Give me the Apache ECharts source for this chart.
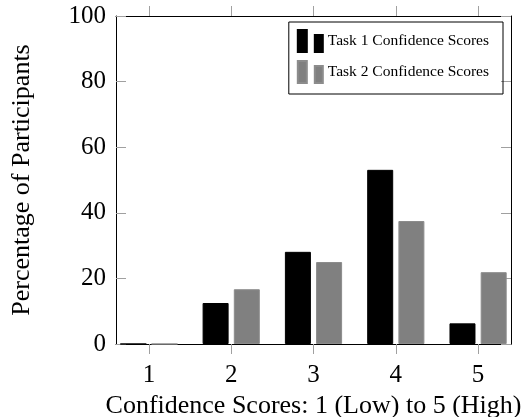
<!DOCTYPE html>
<html>
<head>
<meta charset="utf-8">
<script src="https://cdn.jsdelivr.net/npm/echarts@6/dist/echarts.min.js"></script>
<style>
  html, body { margin: 0; padding: 0; background: #fff; }
  #chart { width: 527px; height: 417px; }
</style>
</head>
<body>
<div id="chart"></div>
<script>
const scores = [1, 2, 3, 4, 5];
const task1 = [0, 12.5, 28.1, 53.1, 6.3];
const task2 = [0, 16.7, 25.0, 37.5, 21.9];
const yTicks = [0, 20, 40, 60, 80, 100];

const serif = '"Liberation Serif", "DejaVu Serif", serif';
const tickGray = '#a0a0a0';
const legendIcon = 'path://M0,0h9v22h-9z M17,5h8v17h-8z';

const chart = echarts.init(document.getElementById('chart'));

const xBase = {
  type: 'value',
  min: 0.6,
  max: 5.4,
  splitLine: { show: false },
  axisLine: { show: true, onZero: false, lineStyle: { color: '#000', width: 1 } }
};
const yBase = {
  type: 'value',
  min: yTicks[0],
  max: yTicks[yTicks.length - 1],
  interval: 20,
  splitLine: { show: false },
  axisLine: { show: true, lineStyle: { color: '#000', width: 1 } },
  axisTick: { show: true, inside: true, length: 10, lineStyle: { color: tickGray } }
};

chart.setOption({
  animation: false,
  backgroundColor: '#fff',
  grid: { left: 116, right: 16, top: 16, bottom: 73, containLabel: false, outerBoundsMode: 'none' },
  legend: {
    orient: 'vertical',
    right: 24,
    top: 22,
    padding: [7, 14, 10, 8],
    itemGap: 7,
    itemWidth: 25,
    itemHeight: 22,
    borderColor: '#000',
    borderWidth: 1,
    borderRadius: 0,
    icon: legendIcon,
    textStyle: { fontFamily: serif, fontSize: 15.5, color: '#000' },
    data: ['Task 1 Confidence Scores', 'Task 2 Confidence Scores']
  },
  xAxis: [
    Object.assign({}, xBase, {
      position: 'bottom',
      name: 'Confidence Scores: 1 (Low) to 5 (High)',
      nameLocation: 'middle',
      nameGap: 45,
      nameTextStyle: { fontFamily: serif, fontSize: 26, color: '#000' },
      axisTick: { show: true, length: 10, customValues: scores, lineStyle: { color: tickGray } },
      axisLabel: { customValues: scores, fontFamily: serif, fontSize: 25, color: '#000', margin: 19 }
    }),
    Object.assign({}, xBase, {
      position: 'top',
      axisTick: { show: true, length: 10, customValues: scores, lineStyle: { color: tickGray } },
      axisLabel: { show: false }
    })
  ],
  yAxis: [
    Object.assign({}, yBase, {
      position: 'left',
      name: 'Percentage of Participants',
      nameLocation: 'middle',
      nameGap: 81,
      nameTextStyle: { fontFamily: serif, fontSize: 26, color: '#000' },
      axisLabel: { fontFamily: serif, fontSize: 25, color: '#000', margin: 10 }
    }),
    Object.assign({}, yBase, {
      position: 'right',
      axisLabel: { show: false }
    })
  ],
  series: [
    {
      name: 'Task 1 Confidence Scores',
      type: 'bar',
      barWidth: 26,
      barGap: '20%',
      itemStyle: { color: '#000', borderColor: '#000', borderWidth: 1 },
      data: scores.map((s, i) => [s, task1[i]])
    },
    {
      name: 'Task 2 Confidence Scores',
      type: 'bar',
      barWidth: 26,
      barGap: '20%',
      itemStyle: { color: '#808080', borderColor: '#8c8c8c', borderWidth: 1 },
      data: scores.map((s, i) => [s, task2[i]])
    }
  ]
});
</script>
</body>
</html>
